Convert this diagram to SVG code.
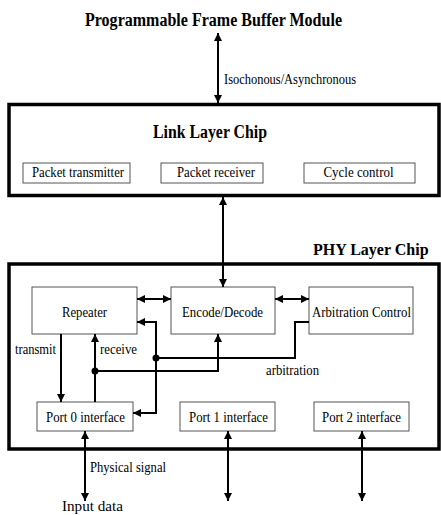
<svg xmlns="http://www.w3.org/2000/svg" width="441" height="515" viewBox="0 0 441 515">
<defs>
<marker id="ah" viewBox="0 0 10 10" refX="10" refY="5" markerWidth="10" markerHeight="8" markerUnits="userSpaceOnUse" orient="auto-start-reverse">
<path d="M0,0 L10,5 L0,10 z" fill="#000"/>
</marker>
<style>
.t{font-family:"Liberation Serif","Times New Roman",serif;font-size:14.5px;fill:#000}
.b{font-family:"Liberation Serif","Times New Roman",serif;font-size:18px;font-weight:bold;fill:#000}
.box{fill:#fff;stroke:#555;stroke-width:1}
.chip{fill:none;stroke:#000;stroke-width:3.5}
.c{fill:none;stroke:#000;stroke-width:2}
.a1{marker-end:url(#ah)}
.a2{marker-start:url(#ah);marker-end:url(#ah)}
</style>
</defs>
<rect width="441" height="515" fill="#fff"/>
<g id="pfbm"><text class="b" x="85" y="25.5" textLength="257" lengthAdjust="spacingAndGlyphs">Programmable Frame Buffer Module</text></g>
<g id="link-chip">
<rect class="chip" x="9" y="104.5" width="430" height="91"/>
<text class="b" x="153" y="137.5" textLength="114" lengthAdjust="spacingAndGlyphs">Link Layer Chip</text>
</g>
<g id="packet-transmitter"><rect class="box" x="23" y="163" width="107" height="20"/><text class="t" x="32" y="177" textLength="92" lengthAdjust="spacingAndGlyphs">Packet transmitter</text></g>
<g id="packet-receiver"><rect class="box" x="161" y="163" width="102" height="20"/><text class="t" x="177" y="177" textLength="78" lengthAdjust="spacingAndGlyphs">Packet receiver</text></g>
<g id="cycle-control"><rect class="box" x="304" y="163" width="111" height="20"/><text class="t" x="323.5" y="177" textLength="70" lengthAdjust="spacingAndGlyphs">Cycle control</text></g>
<g id="phy-chip">
<rect class="chip" x="9" y="264" width="430" height="185"/>
<text class="b" x="313" y="255" style="font-size:16px">PHY Layer Chip</text>
</g>
<g id="repeater"><rect class="box" x="32" y="287" width="105" height="47"/><text class="t" x="62" y="317" textLength="45" lengthAdjust="spacingAndGlyphs">Repeater</text></g>
<g id="encode-decode"><rect class="box" x="171" y="287" width="104" height="47"/><text class="t" x="182" y="317" textLength="81" lengthAdjust="spacingAndGlyphs">Encode/Decode</text></g>
<g id="arbitration-control"><rect class="box" x="309" y="287" width="104" height="47"/><text class="t" x="312" y="317" textLength="99" lengthAdjust="spacingAndGlyphs">Arbitration Control</text></g>
<g id="port0"><rect class="box" x="37" y="402" width="96" height="29"/><text class="t" x="46" y="422" textLength="79" lengthAdjust="spacingAndGlyphs">Port 0 interface</text></g>
<g id="port1"><rect class="box" x="180" y="402" width="95" height="29"/><text class="t" x="189" y="422" textLength="79" lengthAdjust="spacingAndGlyphs">Port 1 interface</text></g>
<g id="port2"><rect class="box" x="314" y="402" width="95" height="29"/><text class="t" x="322" y="422" textLength="79" lengthAdjust="spacingAndGlyphs">Port 2 interface</text></g>
<g id="connectors">
<line class="c a2" x1="218" y1="33" x2="218" y2="103"/>
<line class="c a2" x1="223" y1="197" x2="223" y2="287"/>
<line class="c a2" x1="137" y1="299" x2="171" y2="299"/>
<line class="c a2" x1="275" y1="299" x2="309" y2="299"/>
<line class="c a1" x1="61" y1="334" x2="61" y2="402"/>
<line class="c a1" x1="95" y1="402" x2="95" y2="334"/>
<polyline class="c a2" points="137,322 156,322 156,413 133,413"/>
<polyline class="c" points="309,322 295,322 295,358 156,358"/>
<polyline class="c a1" points="95,371 218,371 218,334"/>
<circle cx="156" cy="358" r="3.5" fill="#000"/>
<circle cx="95" cy="371" r="3.5" fill="#000"/>
<line class="c a2" x1="85" y1="431" x2="85" y2="501"/>
<line class="c a2" x1="228" y1="431" x2="228" y2="501"/>
<line class="c a2" x1="362" y1="431" x2="362" y2="501"/>
<text class="t" x="224" y="84" textLength="132" lengthAdjust="spacingAndGlyphs">Isochonous/Asynchronous</text>
<text class="t" x="15" y="354" textLength="41" lengthAdjust="spacingAndGlyphs">transmit</text>
<text class="t" x="100" y="354" textLength="37" lengthAdjust="spacingAndGlyphs">receive</text>
<text class="t" x="266" y="375" textLength="53" lengthAdjust="spacingAndGlyphs">arbitration</text>
<text class="t" x="90" y="472" textLength="76" lengthAdjust="spacingAndGlyphs">Physical signal</text>
<text class="t" x="62" y="511" textLength="61" lengthAdjust="spacingAndGlyphs">Input data</text>
</g>
</svg>
